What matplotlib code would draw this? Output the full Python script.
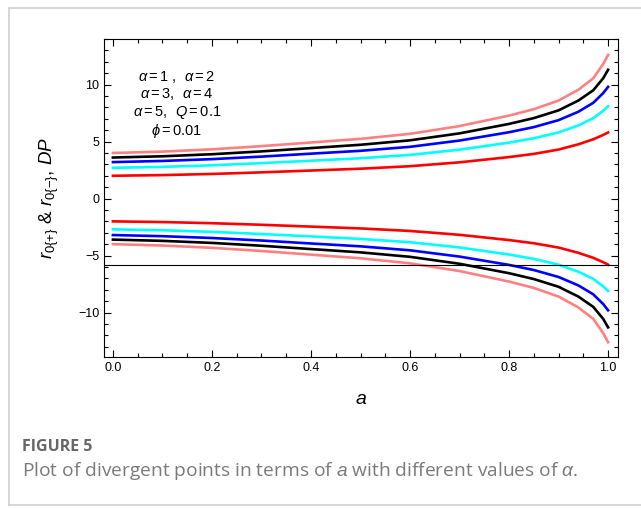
import matplotlib
matplotlib.use("Agg")
import matplotlib.pyplot as plt
from matplotlib.lines import Line2D
from matplotlib.ticker import MultipleLocator, FormatStrFormatter

plt.rcParams['font.family'] = ['Liberation Sans', 'DejaVu Sans']
plt.rcParams['mathtext.fontset'] = 'custom'
plt.rcParams['mathtext.rm'] = 'Liberation Sans'
plt.rcParams['mathtext.it'] = 'Liberation Sans:italic'

# spin parameter a
a_vals = [0.0, 0.1, 0.2, 0.3, 0.4, 0.5, 0.6, 0.7, 0.8, 0.85, 0.9, 0.94, 0.97, 0.99, 1.0]

# r_0{+} branch
plus_pink = [4.00, 4.12, 4.32, 4.60, 4.92, 5.24, 5.68, 6.36, 7.28, 7.84, 8.60, 9.55, 10.55, 11.8, 12.6]
plus_black = [3.60, 3.71, 3.89, 4.14, 4.43, 4.72, 5.11, 5.72, 6.55, 7.06, 7.74, 8.60, 9.50, 10.55, 11.3]
plus_blue = [3.20, 3.30, 3.46, 3.68, 3.94, 4.19, 4.54, 5.09, 5.82, 6.27, 6.88, 7.62, 8.40, 9.25, 9.8]
plus_cyan = [2.70, 2.78, 2.92, 3.11, 3.32, 3.54, 3.83, 4.29, 4.91, 5.29, 5.80, 6.42, 7.05, 7.70, 8.1]
plus_red = [2.00, 2.06, 2.16, 2.30, 2.46, 2.62, 2.84, 3.18, 3.64, 3.92, 4.30, 4.76, 5.20, 5.58, 5.8]

# r_0{-} branch
minus_pink = [-4.00, -4.12, -4.32, -4.60, -4.92, -5.24, -5.68, -6.36, -7.28, -7.84, -8.60, -9.55, -10.55, -11.8, -12.6]
minus_black = [-3.60, -3.71, -3.89, -4.14, -4.43, -4.72, -5.11, -5.72, -6.55, -7.06, -7.74, -8.60, -9.50, -10.55, -11.3]
minus_blue = [-3.20, -3.30, -3.46, -3.68, -3.94, -4.19, -4.54, -5.09, -5.82, -6.27, -6.88, -7.62, -8.40, -9.25, -9.8]
minus_cyan = [-2.70, -2.78, -2.92, -3.11, -3.32, -3.54, -3.83, -4.29, -4.91, -5.29, -5.80, -6.42, -7.05, -7.70, -8.1]
minus_red = [-2.00, -2.06, -2.16, -2.30, -2.46, -2.62, -2.84, -3.18, -3.64, -3.92, -4.30, -4.76, -5.20, -5.58, -5.8]

dp_level = -5.8

W, H = 641, 509
fig = plt.figure(figsize=(W / 100, H / 100), dpi=100)

# panel frame (left, top, bottom edges visible)
frame_col = '#cfcfcf'
for xs, ys in [([9, 9], [8, 505]), ([9, W], [8, 8]), ([9, W], [505, 505])]:
    fig.add_artist(Line2D([x / W for x in xs], [1 - y / H for y in ys],
                          transform=fig.transFigure, color=frame_col, lw=1.2))

ax = fig.add_axes([104 / W, 1 - 357 / H, 514 / W, 318 / H])

colors = ['#ff8080', 'black', '#0000ff', '#00ffff', '#ff0000']
plus_sets = [plus_pink, plus_black, plus_blue, plus_cyan, plus_red]
minus_sets = [minus_pink, minus_black, minus_blue, minus_cyan, minus_red]
for c, yp, ym in zip(colors, plus_sets, minus_sets):
    ax.plot(a_vals, yp, color=c, lw=1.9)
    ax.plot(a_vals, ym, color=c, lw=1.9)

ax.axhline(dp_level, color='black', lw=0.8)

ax.set_xlim(-0.018, 1.02)
ax.set_ylim(-13.9, 14.0)
ax.xaxis.set_major_locator(MultipleLocator(0.2))
ax.xaxis.set_minor_locator(MultipleLocator(0.05))
ax.yaxis.set_major_locator(MultipleLocator(5))
ax.yaxis.set_minor_locator(MultipleLocator(1))
ax.tick_params(which='both', direction='in', top=True, right=True, labelsize=9, width=0.8)
ax.tick_params(which='major', length=5)
ax.tick_params(which='minor', length=3)
ax.xaxis.set_major_formatter(FormatStrFormatter('%.1f'))
for s in ax.spines.values():
    s.set_linewidth(0.8)

ax.set_xlabel('$a$', fontsize=14, labelpad=12)
ax.set_ylabel(r'$r_{0\{+\}}$ & $r_{0\{-\}}$, $DP$', fontsize=13.5, labelpad=12)

ax.text(0.142, 0.905,
        '$\\alpha = 1$ ,  $\\alpha = 2$\n$\\alpha = 3$,  $\\alpha = 4$\n$\\alpha = 5$,  $Q = 0.1$\n$\\phi = 0.01$',
        transform=ax.transAxes, ha='center', va='top', fontsize=10.5, linespacing=1.1,
        multialignment='center')

fig.text(22 / W, 1 - 447 / H, 'FIGURE 5', fontsize=11.5, color='#666666', fontweight='bold',
         family='Open Sans', va='center')
cap = fig.text(22 / W, 1 - 471 / H, 'Plot of divergent points in terms of $a$ with different values of $\\alpha$.',
               fontsize=11, color='#7a7a7a', family='Open Sans', va='center')

# stretch the caption so it ends where the reference caption ends
fig.canvas.draw()
bb = cap.get_window_extent()
cap.set_fontsize(11 * (577 - 22) / bb.width)

plt.savefig('out.png', dpi=100)
